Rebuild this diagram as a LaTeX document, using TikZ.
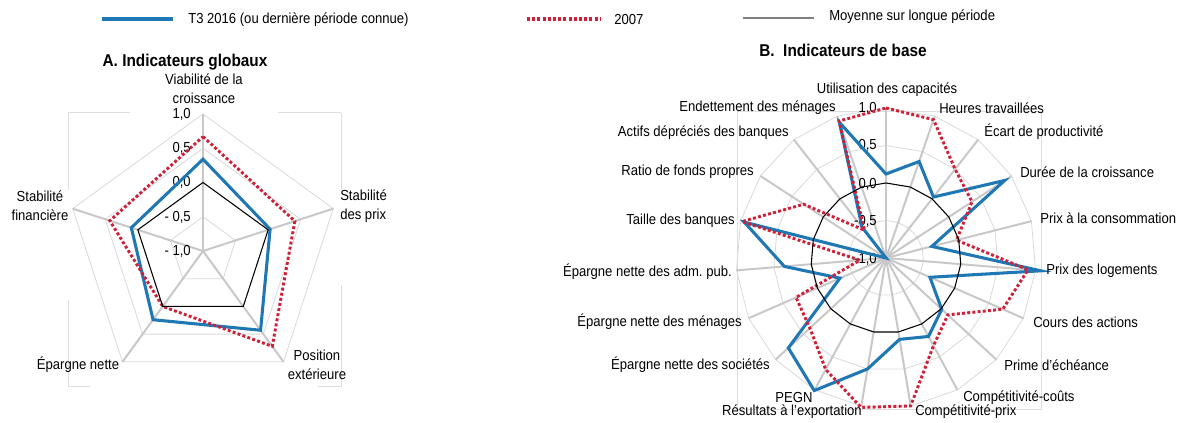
\documentclass[tikz,border=0pt]{standalone}
\usepackage{fontspec}
\setmainfont{Liberation Sans}[FakeStretch=0.9]

\definecolor{tblue}{RGB}{31,120,180}
\definecolor{redA}{RGB}{208,32,56}
\definecolor{gridgray}{RGB}{217,217,217}
\definecolor{spokegray}{RGB}{200,200,200}
\definecolor{framegray}{RGB}{222,222,222}

\begin{document}
\frenchspacing
\begin{tikzpicture}[x=0.75pt, y=-0.75pt,
  lbl/.style = {font=\fontsize{10.9}{14.3}\selectfont, inner sep=0pt, align=center},
  ttl/.style = {font=\fontsize{12.8}{15}\selectfont\bfseries, inner sep=0pt},
  ring/.style = {draw=gridgray, line width=0.6pt},
  spoke/.style = {draw=spokegray, line width=1.5pt},
  avg/.style = {draw=black, line width=0.8pt},
  now/.style = {draw=tblue, line width=2.3pt, line join=miter},
  old/.style = {draw=redA, line width=2.2pt, dash pattern=on 2.2pt off 1.7pt},
  frm/.style = {draw=framegray, line width=0.75pt}]

\useasboundingbox (0,0) rectangle (1177,423);

% legend
\coordinate (leg1a) at (102,19);
\coordinate (leg1b) at (173,19);
\coordinate (leg2a) at (527,19);
\coordinate (leg2b) at (600,19);
\coordinate (leg3a) at (743,18);
\coordinate (leg3b) at (814,18);
\draw[now, line width=3pt] (leg1a) -- (leg1b);
\draw[old, line width=3pt] (leg2a) -- (leg2b);
\draw[draw=gray, line width=1.3pt] (leg3a) -- (leg3b);
\node[lbl, anchor=west] (leg1) at (188,20) {T3 2016 (ou dernière période connue)};
\node[lbl, anchor=west] (leg2) at (614,20) {2007};
\node[lbl, anchor=west] (leg3) at (829,17) {Moyenne sur longue période};

% A. indicateurs globaux
\node[ttl] (titA) at (185,62) {A. Indicateurs globaux};
\draw[frm] (68,113) -- (130,113);
\draw[frm] (278,113) -- (341,113);
\draw[frm] (68,113) -- (68,190);
\draw[frm] (341,113) -- (341,190);
\draw[frm] (68,300) -- (68,387) -- (90,387);
\draw[frm] (341,285) -- (341,387) -- (318,387);

\begin{scope}[shift={(203,251)}]
\foreach \r in {-0.5,0.5,1}
  \draw[ring] (-90:{(\r+1)*68.5}) \foreach \k in {1,...,4}{ -- ({-90+\k*72}:{(\r+1)*68.5}) } -- cycle;
\foreach \k in {0,...,4}
  \draw[spoke] (0,0) -- ({-90+\k*72}:137);
\foreach \v [count=\i from 0] in {0.34,0.03,0.43,0.24,0.10}
  \coordinate (gT\i) at ({-90+\i*72}:{(\v+1)*68.5});
\foreach \v [count=\i from 0] in {0.67,0.41,0.72,0.00,0.43}
  \coordinate (gR\i) at ({-90+\i*72}:{(\v+1)*68.5});
\foreach \i in {0,...,4}
  \coordinate (gM\i) at ({-90+\i*72}:68.5);
\end{scope}

\node[lbl, anchor=east] (ga1) at (191,114) {1,0};
\node[lbl, anchor=east] (ga2) at (191,148) {0,5};
\node[lbl, anchor=east] (ga3) at (191,182.5) {0,0};
\node[lbl, anchor=east] (ga4) at (191,217) {- 0,5};
\node[lbl, anchor=east] (ga5) at (191,251) {- 1,0};

\draw[now] (gT0) -- (gT1) -- (gT2) -- (gT3) -- (gT4) -- cycle;
\draw[old] (gR0) -- (gR1) -- (gR2) -- (gR3) -- (gR4) -- cycle;
\draw[avg] (gM0) -- (gM1) -- (gM2) -- (gM3) -- (gM4) -- cycle;

\node[lbl] (viab) at (204,88.5) {Viabilité de la\\croissance};
\node[lbl] (sfin) at (40,206) {Stabilité\\financière};
\node[lbl, anchor=west, align=left] (sprix) at (340,206) {Stabilité\\des prix};
\node[lbl] (epn) at (78,365) {Épargne nette};
\node[lbl] (posx) at (317,364.5) {Position\\extérieure};

% B. indicateurs de base
\node[ttl] (titB) at (843,50) {B.\ \ Indicateurs de base};
\draw[frm] (737,112) rectangle (1041,410);

\begin{scope}[shift={(886,258)}]
\foreach \r in {-0.5,0.5,1}
  \draw[ring] (-90:{(\r+1)*75}) \foreach \k in {1,...,18}{ -- ({-90+\k*360/19}:{(\r+1)*75}) } -- cycle;
\foreach \k in {0,...,18}
  \draw[spoke] (0,0) -- ({-90+\k*360/19}:150);
\foreach \v [count=\i from 0] in {0.12,0.36,0.03,0.89,-0.37,1.07,-0.36,0.01,0.19,0.10,0.50,1.01,0.77,-0.33,0.36,0.95,-1.0,-0.48,0.91}
  \coordinate (bT\i) at ({-90+\i*360/19}:{(\v+1)*75});
\foreach \v [count=\i from 0] in {1.0,0.95,0.5,0.37,-0.03,0.9,0.7,0.12,0.33,1.0,1.02,0.69,0.38,0.31,-0.65,0.98,0.31,-0.53,0.93}
  \coordinate (bR\i) at ({-90+\i*360/19}:{(\v+1)*75});
\foreach \i in {0,...,18}
  \coordinate (bM\i) at ({-90+\i*360/19}:75);
\end{scope}

\node[lbl, anchor=east] (gb1) at (877,108) {1,0};
\node[lbl, anchor=east] (gb2) at (877,145.5) {0,5};
\node[lbl, anchor=east] (gb3) at (877,184) {0,0};
\node[lbl, anchor=east] (gb4) at (877,221) {-0,5};
\node[lbl, anchor=east] (gb5) at (877,259) {-1,0};

\draw[now] (bT0) \foreach \i in {1,...,18}{ -- (bT\i) } -- cycle;
\draw[old] (bR0) \foreach \i in {1,...,18}{ -- (bR\i) } -- cycle;
\draw[avg] (bM0) \foreach \i in {1,...,18}{ -- (bM\i) } -- cycle;

\node[lbl] (capa) at (887,90) {Utilisation des capacités};
\node[lbl, anchor=west] (heures) at (939,108) {Heures travaillées};
\node[lbl, anchor=west] (ecart) at (984,132) {Écart de productivité};
\node[lbl, anchor=west] (duree) at (1020,172) {Durée de la croissance};
\node[lbl, anchor=west] (pconso) at (1040,218) {Prix à la consommation};
\node[lbl, anchor=west] (plog) at (1046,271) {Prix des logements};
\node[lbl, anchor=west] (cours) at (1033,322) {Cours des actions};
\node[lbl, anchor=west] (prime) at (1004,365) {Prime d'échéance};
\node[lbl, anchor=west] (ccout) at (963,398) {Compétitivité-coûts};
\node[lbl, anchor=west] (cprix) at (915,412) {Compétitivité-prix};
\node[lbl, anchor=east] (export) at (862,412) {Résultats à l'exportation};
\node[lbl] (pegn) at (794,397) {PEGN};
\node[lbl, anchor=east] (esoc) at (770,365) {Épargne nette des sociétés};
\node[lbl, anchor=east] (emen) at (742,322) {Épargne nette des ménages};
\node[lbl, anchor=east] (eadm) at (732,272) {Épargne nette des adm. pub.};
\node[lbl, anchor=east] (taille) at (735,221) {Taille des banques};
\node[lbl, anchor=east] (ratio) at (754,172) {Ratio de fonds propres};
\node[lbl, anchor=east] (actifs) at (789,133) {Actifs dépréciés des banques};
\node[lbl, anchor=east] (endet) at (836,108) {Endettement des ménages};
\end{tikzpicture}
\end{document}
